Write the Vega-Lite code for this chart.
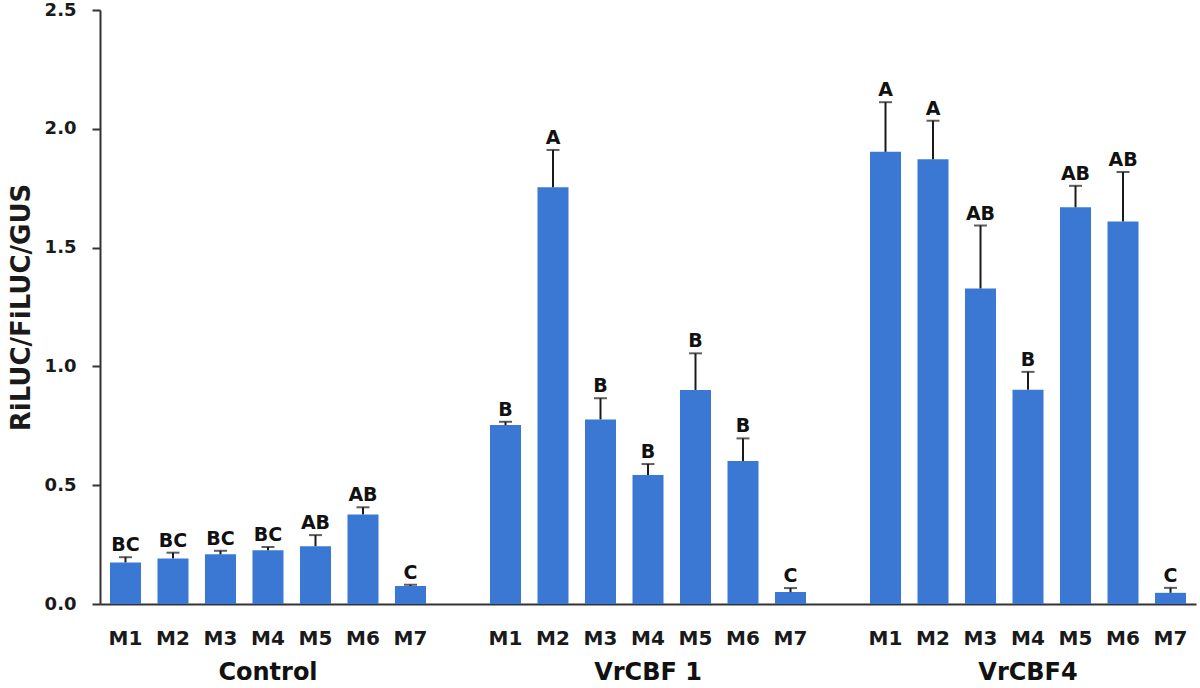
{
  "$schema": "https://vega.github.io/schema/vega-lite/v6.json",
  "autosize": {"type": "none"},
  "padding": {"left": 100, "top": 10, "right": 4, "bottom": 84},
  "width": 1096,
  "height": 594,
  "background": "white",
  "config": {
    "view": {"stroke": null},
    "font": "DejaVu Sans"
  },
  "datasets": {
    "bars": [
      {"key": "Control|M1", "group": "Control", "m": "M1", "value": 0.175, "upper": 0.197, "sig": "BC"},
      {"key": "Control|M2", "group": "Control", "m": "M2", "value": 0.192, "upper": 0.216, "sig": "BC"},
      {"key": "Control|M3", "group": "Control", "m": "M3", "value": 0.209, "upper": 0.224, "sig": "BC"},
      {"key": "Control|M4", "group": "Control", "m": "M4", "value": 0.226, "upper": 0.240, "sig": "BC"},
      {"key": "Control|M5", "group": "Control", "m": "M5", "value": 0.243, "upper": 0.290, "sig": "AB"},
      {"key": "Control|M6", "group": "Control", "m": "M6", "value": 0.377, "upper": 0.407, "sig": "AB"},
      {"key": "Control|M7", "group": "Control", "m": "M7", "value": 0.076, "upper": 0.081, "sig": "C"},
      {"key": "VrCBF 1|M1", "group": "VrCBF 1", "m": "M1", "value": 0.753, "upper": 0.767, "sig": "B"},
      {"key": "VrCBF 1|M2", "group": "VrCBF 1", "m": "M2", "value": 1.754, "upper": 1.911, "sig": "A"},
      {"key": "VrCBF 1|M3", "group": "VrCBF 1", "m": "M3", "value": 0.777, "upper": 0.866, "sig": "B"},
      {"key": "VrCBF 1|M4", "group": "VrCBF 1", "m": "M4", "value": 0.543, "upper": 0.589, "sig": "B"},
      {"key": "VrCBF 1|M5", "group": "VrCBF 1", "m": "M5", "value": 0.901, "upper": 1.055, "sig": "B"},
      {"key": "VrCBF 1|M6", "group": "VrCBF 1", "m": "M6", "value": 0.602, "upper": 0.697, "sig": "B"},
      {"key": "VrCBF 1|M7", "group": "VrCBF 1", "m": "M7", "value": 0.050, "upper": 0.067, "sig": "C"},
      {"key": "VrCBF4|M1", "group": "VrCBF4", "m": "M1", "value": 1.903, "upper": 2.112, "sig": "A"},
      {"key": "VrCBF4|M2", "group": "VrCBF4", "m": "M2", "value": 1.872, "upper": 2.034, "sig": "A"},
      {"key": "VrCBF4|M3", "group": "VrCBF4", "m": "M3", "value": 1.328, "upper": 1.593, "sig": "AB"},
      {"key": "VrCBF4|M4", "group": "VrCBF4", "m": "M4", "value": 0.902, "upper": 0.977, "sig": "B"},
      {"key": "VrCBF4|M5", "group": "VrCBF4", "m": "M5", "value": 1.670, "upper": 1.760, "sig": "AB"},
      {"key": "VrCBF4|M6", "group": "VrCBF4", "m": "M6", "value": 1.610, "upper": 1.818, "sig": "AB"},
      {"key": "VrCBF4|M7", "group": "VrCBF4", "m": "M7", "value": 0.047, "upper": 0.068, "sig": "C"}
    ],
    "groups": [
      {"group": "Control", "at": "Control|M4"},
      {"group": "VrCBF 1", "at": "VrCBF 1|M4"},
      {"group": "VrCBF4", "at": "VrCBF4|M4"}
    ]
  },
  "layer": [
    {
      "data": {"name": "bars"},
      "mark": {"type": "bar", "color": "#3a78d4"},
      "encoding": {
        "x": {
          "field": "key", "type": "nominal", "sort": null,
          "scale": {
            "domain": ["Control|M1","Control|M2","Control|M3","Control|M4","Control|M5","Control|M6","Control|M7","gap1",
                       "VrCBF 1|M1","VrCBF 1|M2","VrCBF 1|M3","VrCBF 1|M4","VrCBF 1|M5","VrCBF 1|M6","VrCBF 1|M7","gap2",
                       "VrCBF4|M1","VrCBF4|M2","VrCBF4|M3","VrCBF4|M4","VrCBF4|M5","VrCBF4|M6","VrCBF4|M7"],
            "paddingInner": 0.347, "paddingOuter": 0.21
          },
          "axis": {
            "title": null, "labelAngle": 0, "ticks": false, "labelPadding": 24,
            "labelExpr": "(datum.value == 'gap1' || datum.value == 'gap2') ? '' : slice(datum.value, -2)",
            "labelFont": "DejaVu Sans", "labelFontSize": 20, "labelFontWeight": "bold", "labelColor": "#1a1a1a",
            "domainColor": "#333333", "domainWidth": 2, "labelOverlap": false
          }
        },
        "y": {
          "field": "value", "type": "quantitative",
          "scale": {"domain": [0, 2.5], "nice": false},
          "axis": {
            "values": [0, 0.5, 1, 1.5, 2, 2.5], "format": ".1f", "grid": false,
            "title": "RiLUC/FiLUC/GUS", "titleFont": "DejaVu Sans", "titleFontSize": 26, "titleFontWeight": "bold",
            "titleColor": "#1a1a1a", "titlePadding": 10,
            "labelFont": "DejaVu Sans", "labelFontSize": 18, "labelFontWeight": "bold", "labelColor": "#1a1a1a",
            "labelPadding": 16, "tickSize": 8, "tickColor": "#333333", "tickWidth": 2,
            "domainColor": "#333333", "domainWidth": 2
          }
        }
      }
    },
    {
      "data": {"name": "bars"},
      "mark": {"type": "rule", "color": "#1a1a1a", "strokeWidth": 2},
      "encoding": {
        "x": {"field": "key", "type": "nominal", "sort": null},
        "y": {"field": "value", "type": "quantitative"},
        "y2": {"field": "upper"}
      }
    },
    {
      "data": {"name": "bars"},
      "mark": {"type": "tick", "color": "#1a1a1a", "size": 13, "thickness": 2},
      "encoding": {
        "x": {"field": "key", "type": "nominal", "sort": null},
        "y": {"field": "upper", "type": "quantitative"}
      }
    },
    {
      "data": {"name": "bars"},
      "mark": {"type": "text", "font": "DejaVu Sans", "fontSize": 19, "fontWeight": "bold", "color": "#111111", "baseline": "alphabetic", "dy": -6},
      "encoding": {
        "x": {"field": "key", "type": "nominal", "sort": null},
        "y": {"field": "upper", "type": "quantitative"},
        "text": {"field": "sig"}
      }
    },
    {
      "data": {"name": "groups"},
      "mark": {"type": "text", "font": "DejaVu Sans", "fontSize": 24, "fontWeight": "bold", "color": "#111111", "baseline": "alphabetic"},
      "encoding": {
        "x": {"field": "at", "type": "nominal", "sort": null},
        "y": {"datum": -0.32, "type": "quantitative"},
        "text": {"field": "group"}
      }
    }
  ]
}
